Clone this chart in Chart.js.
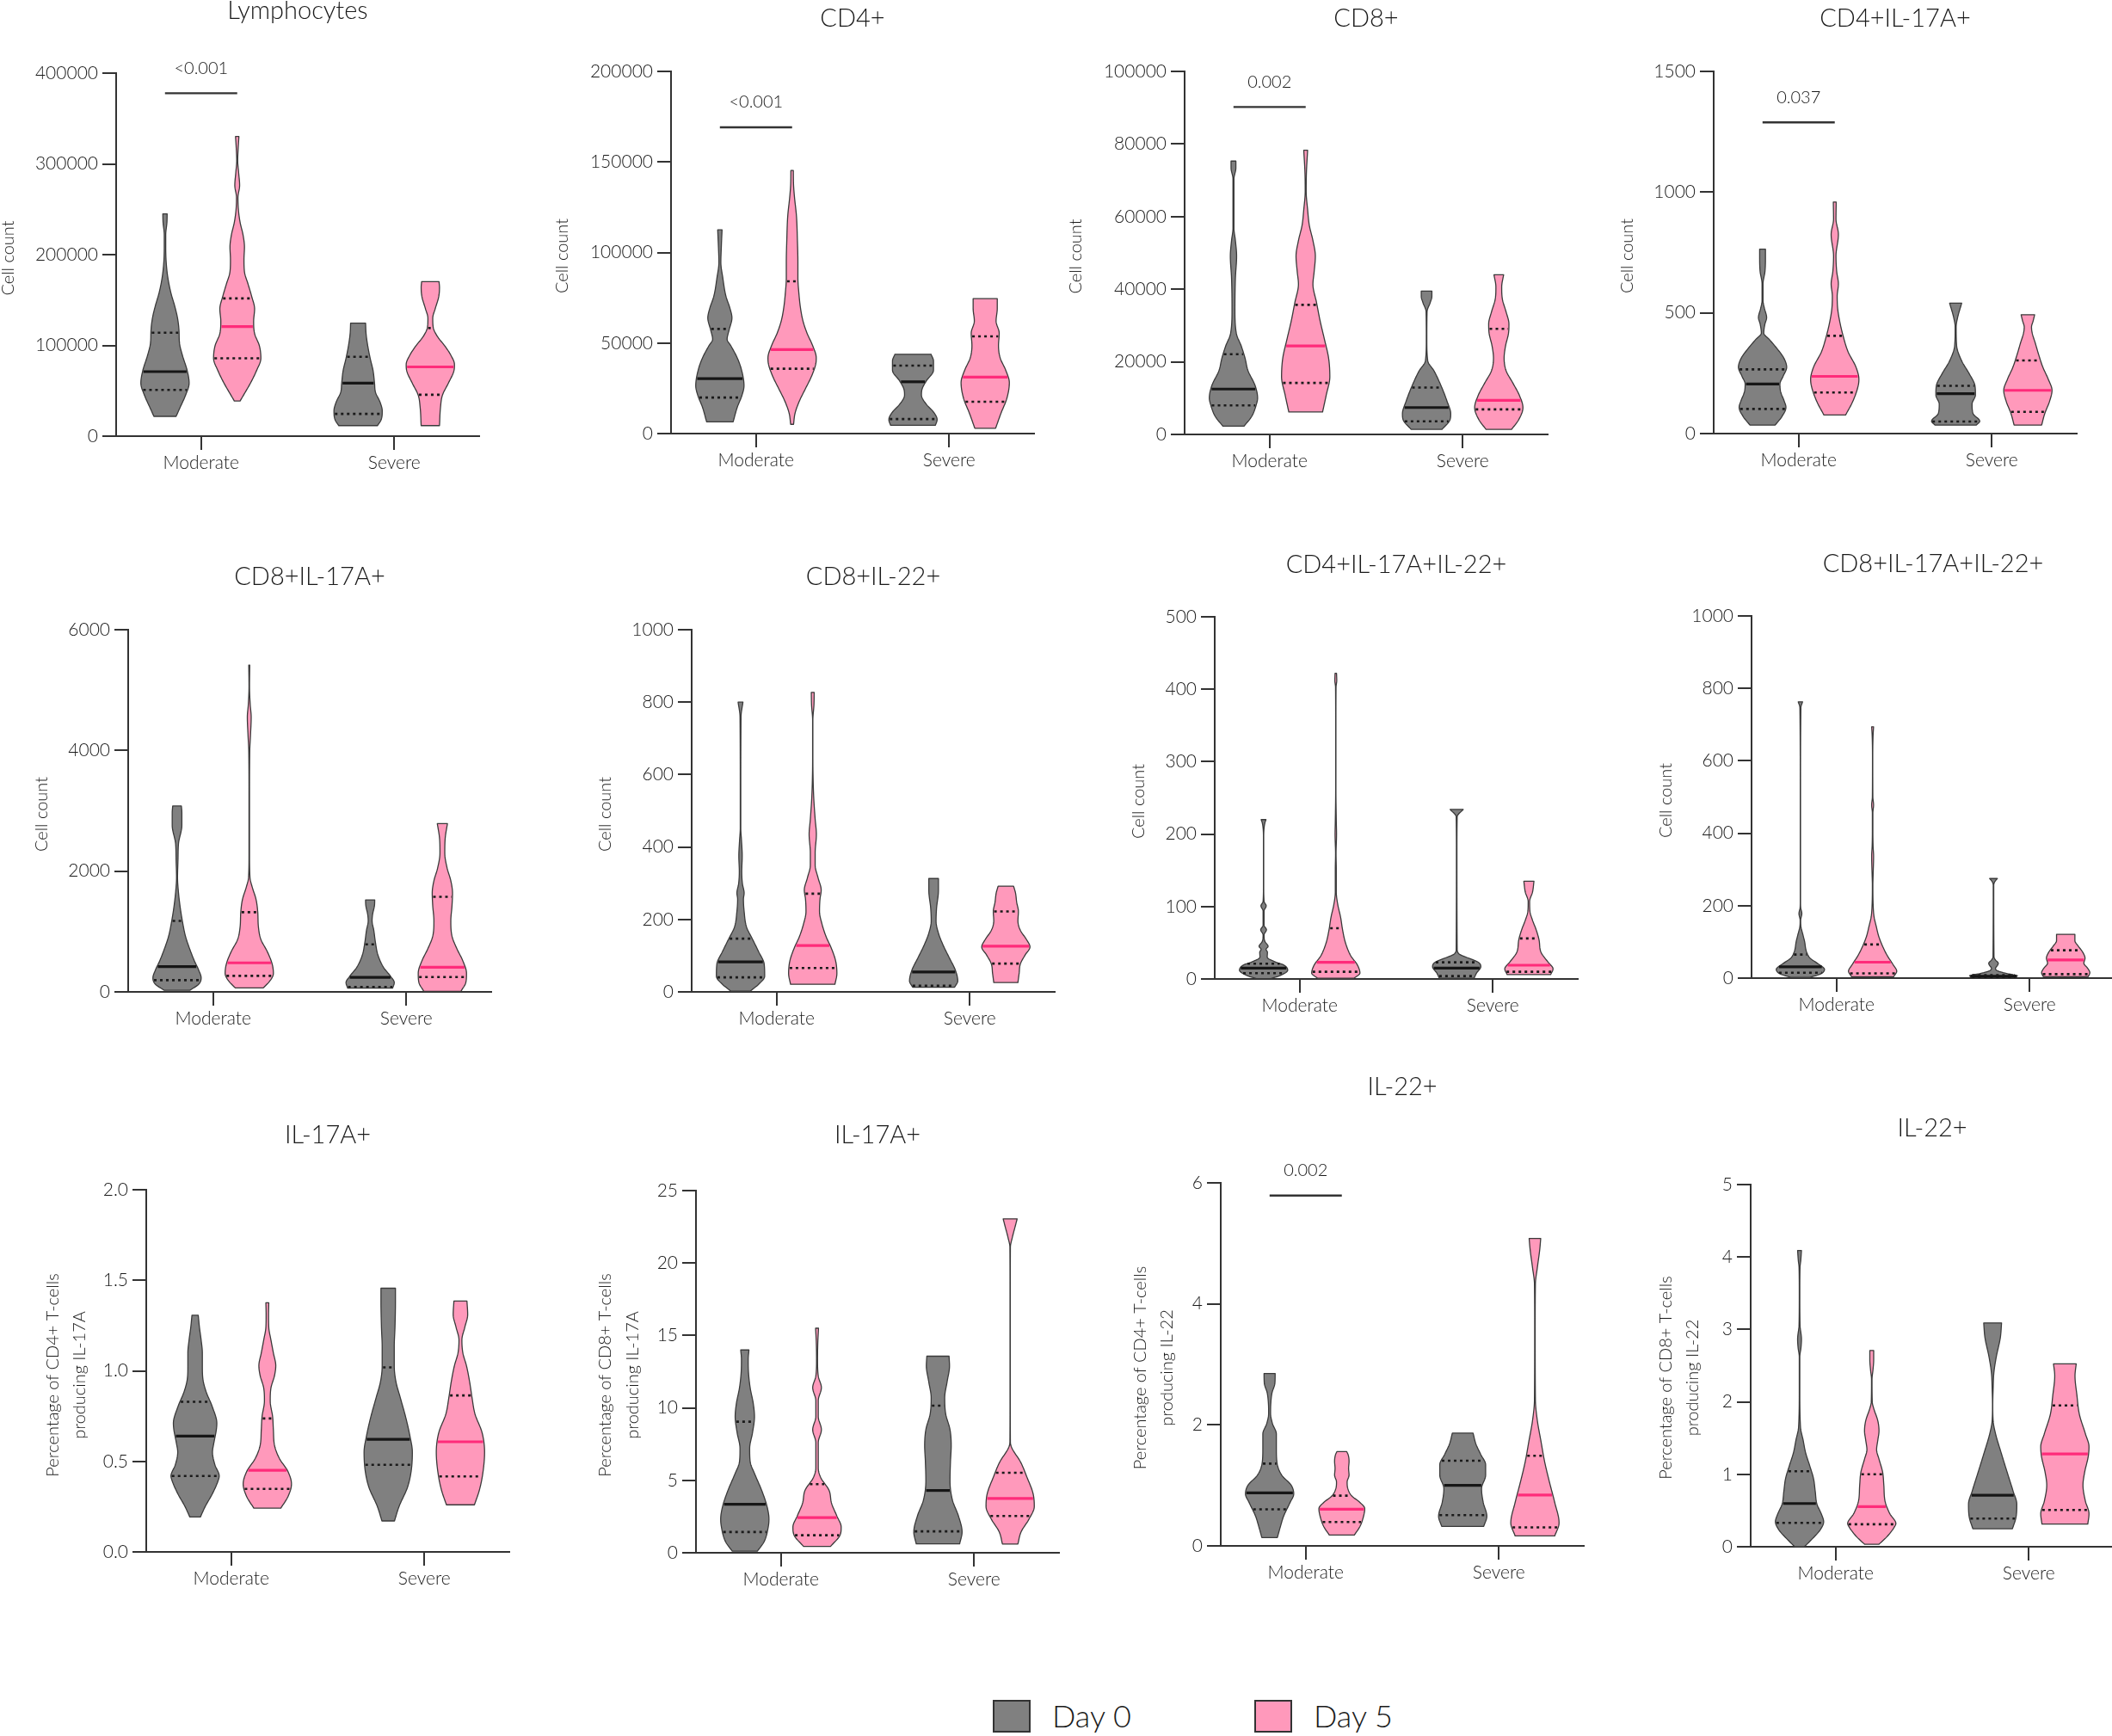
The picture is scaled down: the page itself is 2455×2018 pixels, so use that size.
<!DOCTYPE html>
<html>
<head>
<meta charset="utf-8">
<title>Violin plots - Day 0 vs Day 5</title>
<script src="https://cdn.jsdelivr.net/npm/chart.js@4.4.1/dist/chart.umd.min.js"></script>
<style>
  body { margin: 0; background: #fff; }
  #page { position: relative; width: 2455px; height: 2018px; overflow: hidden; background: #fff; }
  #page canvas { position: absolute; }
  .key { position: absolute; width: 44px; height: 38px; box-sizing: border-box; border: 2px solid #333; }
  .keyText { position: absolute; height: 44px; line-height: 44px; font: 300 36px Lato, sans-serif; color: #1a1a1a; }
</style>
</head>
<body>
<div id="page">
  <div class="key" style="left:1154px; top:1976px; background:#808080;"></div>
  <div class="keyText" style="left:1223px; top:1972px;">Day 0</div>
  <div class="key" style="left:1458px; top:1976px; background:#ff99bb;"></div>
  <div class="keyText" style="left:1527px; top:1972px;">Day 5</div>
</div>
<script>
// Categories and groups
const categories = ['Moderate', 'Severe'];
const groups = ['Day 0', 'Day 5'];

// Violin outlines: [value, relative half width]
// order: Moderate Day 0, Moderate Day 5, Severe Day 0, Severe Day 5
const lymphocytesShapes = [
    [[21800,0.46],[31300,0.62],[45000,0.85],[58500,1.0],[72200,0.92],[89200,0.72],[102800,0.6],[116400,0.58],[130000,0.52],[143600,0.4],[157300,0.25],[174300,0.12],[191300,0.05],[208300,0.03],[221900,0.03],[235500,0.08],[245000,0.09]],
    [[38800,0.12],[48300,0.33],[58500,0.55],[72200,0.8],[85800,0.98],[99400,0.92],[113000,0.72],[126600,0.68],[140200,0.72],[153900,0.6],[167500,0.45],[181100,0.3],[194700,0.28],[208300,0.3],[221900,0.24],[235500,0.12],[249200,0.05],[262800,0.03],[276400,0.1],[290000,0.06],[303700,0.02],[317300,0.04],[330200,0.07]],
    [[11600,0.8],[17700,0.95],[27900,1.0],[38100,0.9],[48300,0.72],[58500,0.68],[72200,0.62],[85800,0.5],[99400,0.4],[113000,0.33],[124600,0.31]],
    [[11600,0.38],[31300,0.42],[45000,0.5],[58500,0.75],[72200,0.98],[79000,1.0],[89200,0.85],[99400,0.6],[109600,0.3],[119800,0.12],[130000,0.1],[140200,0.2],[153900,0.35],[164100,0.38],[170200,0.36]]
];
const lymphocytesStats = [[51000,71100,114000],[85800,120800,151800],[24500,58500,87500],[45600,76300,119100]];

const cd4Shapes = [
    [[6500,0.55],[14500,0.72],[21300,0.92],[26400,1.0],[35000,0.9],[41800,0.72],[48600,0.45],[52000,0.3],[57100,0.38],[63900,0.5],[69100,0.42],[75900,0.25],[86100,0.12],[94600,0.04],[103200,0.06],[112500,0.09]],
    [[5100,0.06],[11100,0.12],[17900,0.3],[24700,0.55],[31500,0.8],[38400,0.98],[41800,1.0],[48600,0.85],[55400,0.62],[62200,0.45],[69100,0.35],[77600,0.28],[86100,0.24],[94600,0.24],[106600,0.22],[120200,0.18],[130400,0.1],[137300,0.06],[145300,0.05]],
    [[4600,0.93],[7700,1.0],[11900,0.85],[16200,0.55],[21300,0.35],[24700,0.38],[29000,0.55],[35000,0.85],[40100,0.85],[43800,0.75]],
    [[2900,0.43],[11100,0.65],[19600,0.9],[28100,1.0],[35000,0.85],[41800,0.62],[48600,0.55],[55400,0.58],[62200,0.45],[69100,0.5],[74500,0.5]]
];
const cd4Stats = [[19900,30300,57800],[35800,46400,84100],[8000,28600,37500],[17600,31200,53700]];

const cd8Shapes = [
    [[2300,0.44],[4900,0.75],[8300,0.95],[10000,1.0],[13400,0.9],[17600,0.6],[21000,0.48],[24400,0.32],[27800,0.12],[34600,0.06],[43100,0.08],[49100,0.13],[53400,0.08],[56800,0.02],[64400,0.02],[70400,0.02],[73400,0.1],[75300,0.1]],
    [[6200,0.7],[10800,0.85],[15900,1.0],[21000,0.95],[26100,0.78],[31200,0.6],[36300,0.45],[41400,0.3],[44800,0.35],[49100,0.4],[53400,0.3],[57600,0.15],[61900,0.08],[67000,0.02],[72100,0.03],[78300,0.08]],
    [[1400,0.64],[4000,0.97],[5700,1.0],[9100,0.85],[13400,0.6],[17600,0.3],[20200,0.05],[26100,0.01],[33800,0.02],[36300,0.15],[38000,0.22],[39500,0.22]],
    [[1400,0.53],[4000,0.82],[7400,1.0],[10800,0.85],[14200,0.58],[17600,0.3],[21000,0.22],[24400,0.28],[27800,0.4],[30400,0.42],[33800,0.3],[37200,0.15],[40600,0.12],[44000,0.2]]
];
const cd8Stats = [[8000,12500,22100],[14200,24400,35700],[3600,7400,12900],[6900,9400,29100]];

const cd4Il17Shapes = [
    [[35,0.52],[70,0.8],[109,0.97],[134,0.9],[173,0.75],[205,0.72],[237,0.85],[275,1.0],[313,0.88],[352,0.6],[390,0.28],[416,0.05],[454,0.1],[480,0.17],[518,0.08],[550,0.02],[620,0.02],[671,0.1],[723,0.12],[764,0.12]],
    [[77,0.45],[134,0.75],[198,0.97],[224,1.0],[275,0.88],[339,0.55],[403,0.35],[467,0.2],[518,0.12],[569,0.1],[620,0.15],[671,0.08],[735,0.05],[825,0.15],[889,0.05],[959,0.06]],
    [[35,0.85],[51,1.0],[83,0.72],[122,0.68],[160,0.82],[198,0.8],[250,0.55],[301,0.25],[365,0.04],[441,0.02],[480,0.08],[540,0.25]],
    [[35,0.57],[83,0.7],[134,0.9],[179,1.0],[224,0.85],[275,0.62],[326,0.45],[377,0.3],[416,0.18],[441,0.15],[467,0.22],[492,0.28]]
];
const cd4Il17Stats = [[102,205,266],[170,237,405],[50,165,198],[90,179,303]];

const cd8Il17Shapes = [
    [[26,0.53],[128,0.9],[230,1.0],[358,0.9],[512,0.72],[716,0.52],[921,0.35],[1176,0.22],[1432,0.12],[1688,0.05],[1893,0.02],[2200,0.04],[2455,0.06],[2762,0.2],[2967,0.2],[3079,0.18]],
    [[66,0.58],[179,0.85],[307,1.0],[460,0.95],[665,0.75],[870,0.48],[1074,0.38],[1330,0.35],[1534,0.28],[1739,0.12],[1893,0.03],[2302,0.01],[2813,0.01],[3222,0.01],[3990,0.02],[4245,0.05],[4552,0.08],[4757,0.04],[5064,0.01],[5412,0.02]],
    [[61,0.93],[153,1.0],[256,0.85],[409,0.55],[614,0.32],[818,0.22],[1023,0.15],[1176,0.08],[1279,0.1],[1432,0.18],[1524,0.19]],
    [[10,0.77],[153,0.97],[307,1.0],[512,0.85],[716,0.6],[921,0.4],[1176,0.35],[1432,0.4],[1637,0.42],[1841,0.35],[2046,0.2],[2302,0.1],[2557,0.12],[2788,0.21]]
];
const cd8Il17Stats = [[194,419,1176],[266,481,1320],[82,240,788],[245,409,1575]];

const cd8Il22Shapes = [
    [[2,0.4],[21,0.75],[43,1.0],[77,0.98],[111,0.75],[145,0.5],[179,0.25],[222,0.15],[256,0.12],[273,0.15],[298,0.08],[332,0.05],[375,0.07],[418,0.04],[452,0.01],[537,0.01],[759,0.02],[800,0.1]],
    [[21,0.92],[51,1.0],[85,0.95],[119,0.78],[153,0.55],[188,0.38],[222,0.28],[256,0.3],[281,0.35],[315,0.22],[350,0.1],[384,0.1],[435,0.15],[477,0.1],[537,0.04],[605,0.01],[665,0.005],[750,0.005],[793,0.05],[827,0.06]],
    [[13,0.87],[30,1.0],[60,0.9],[94,0.65],[128,0.4],[162,0.2],[196,0.1],[230,0.12],[281,0.2],[313,0.2]],
    [[26,0.5],[51,0.55],[77,0.6],[102,0.8],[124,1.0],[145,0.85],[170,0.6],[196,0.5],[222,0.52],[247,0.45],[273,0.4],[292,0.32]]
];
const cd8Il22Stats = [[40,83,147],[66,128,271],[17,55,null],[78,126,222]];

const cd4Il17Il22Shapes = [
    [[0.4,0.3],[5,0.7],[12,1.0],[19,0.85],[24,0.45],[30,0.15],[37,0.16],[41,0.1],[45,0.19],[52,0.05],[61,0.02],[68,0.12],[74,0.02],[94,0.02],[101,0.11],[107,0.02],[129,0.005],[196,0.005],[215,0.05],[220,0.1]],
    [[1,0.75],[8,1.0],[19,0.9],[32,0.62],[50,0.4],[68,0.28],[85,0.2],[103,0.08],[120,0.02],[151,0.02],[173,0.01],[200,0.03],[218,0.02],[262,0.005],[350,0.005],[403,0.01],[412,0.04],[422,0.03]],
    [[1,0.72],[8,0.82],[17,1.0],[23,0.9],[30,0.4],[34,0.12],[41,0.02],[173,0.01],[224,0.02],[234,0.27]],
    [[6,0.9],[14,1.0],[23,0.8],[37,0.5],[54,0.42],[68,0.3],[81,0.15],[94,0.04],[107,0.03],[120,0.15],[135,0.21]]
];
const cd4Il17Il22Stats = [[8,15,21],[10,23,70],[4,15,23],[10,19,56]];

const cd8Il17Il22Shapes = [
    [[2,0.4],[12,0.85],[24,1.0],[41,0.7],[55,0.4],[68,0.28],[81,0.22],[99,0.18],[121,0.1],[143,0.02],[160,0.01],[178,0.06],[196,0.01],[213,0.005],[522,0.005],[747,0.02],[763,0.09]],
    [[4,0.87],[19,1.0],[37,0.85],[63,0.6],[90,0.4],[116,0.25],[143,0.15],[169,0.06],[205,0.02],[257,0.01],[284,0.02],[337,0.04],[363,0.02],[407,0.01],[456,0.01],[478,0.04],[500,0.01],[610,0.005],[672,0.02],[694,0.04]],
    [[1,0.85],[6,1.0],[12,0.6],[19,0.2],[26,0.08],[37,0.18],[41,0.2],[50,0.08],[59,0.02],[257,0.01],[266,0.05],[275,0.16]],
    [[4,0.93],[15,1.0],[28,0.9],[41,0.75],[55,0.8],[72,0.7],[90,0.5],[103,0.38],[121,0.38]]
];
const cd8Il17Il22Stats = [[15,31,65],[13,44,93],[3,5,8],[11,50,77]];

const cd4Il17PctShapes = [
    [[0.193,0.22],[0.251,0.42],[0.322,0.72],[0.392,0.95],[0.419,1.0],[0.481,0.82],[0.551,0.72],[0.604,0.78],[0.675,0.88],[0.710,0.9],[0.799,0.72],[0.887,0.45],[0.958,0.32],[1.028,0.3],[1.099,0.3],[1.170,0.25],[1.240,0.18],[1.307,0.13]],
    [[0.242,0.56],[0.304,0.85],[0.375,1.0],[0.445,0.85],[0.516,0.5],[0.587,0.3],[0.675,0.25],[0.746,0.22],[0.834,0.12],[0.905,0.15],[0.975,0.3],[1.028,0.35],[1.099,0.25],[1.170,0.15],[1.240,0.06],[1.311,0.05],[1.376,0.06]],
    [[0.171,0.26],[0.251,0.45],[0.357,0.8],[0.445,0.95],[0.551,1.0],[0.640,0.9],[0.746,0.72],[0.852,0.5],[0.940,0.32],[1.028,0.25],[1.134,0.25],[1.240,0.28],[1.382,0.3],[1.456,0.3]],
    [[0.260,0.58],[0.339,0.78],[0.428,0.92],[0.551,1.0],[0.657,0.9],[0.763,0.6],[0.852,0.48],[0.940,0.38],[1.028,0.25],[1.099,0.1],[1.170,0.06],[1.240,0.18],[1.311,0.3],[1.385,0.27]]
];
const cd4Il17PctStats = [[0.419,0.640,0.829],[0.348,0.451,0.737],[0.481,0.622,1.019],[0.417,0.608,0.864]];

const cd8Il17PctShapes = [
    [[0.11,0.52],[0.77,0.8],[1.88,0.98],[2.32,1.0],[3.2,0.92],[4.3,0.7],[5.4,0.42],[6.3,0.22],[7.2,0.2],[8.3,0.32],[9.4,0.4],[10.3,0.35],[11.4,0.22],[12.5,0.15],[13.35,0.14],[14.0,0.17]],
    [[0.44,0.56],[1.21,0.95],[1.77,1.0],[2.54,0.82],[3.42,0.6],[4.3,0.5],[5.2,0.15],[5.85,0.05],[6.7,0.05],[7.6,0.05],[8.5,0.18],[9.4,0.05],[10.5,0.05],[11.4,0.18],[12.2,0.05],[13.35,0.02],[14.45,0.03],[15.5,0.06]],
    [[0.62,0.9],[1.43,1.0],[2.54,0.85],[3.64,0.6],[4.97,0.5],[6.3,0.52],[7.4,0.55],[8.5,0.5],[9.6,0.32],[10.7,0.28],[11.8,0.38],[12.9,0.48],[13.57,0.46]],
    [[0.6,0.32],[1.43,0.45],[2.32,0.78],[3.2,1.0],[4.08,0.95],[5.2,0.7],[6.3,0.42],[7.2,0.08],[7.6,0.01],[10.7,0.005],[17.3,0.005],[21.1,0.01],[21.7,0.08],[22.6,0.22],[23.05,0.29]]
];
const cd8Il17PctStats = [[1.43,3.35,9.05],[1.21,2.43,4.74],[1.48,4.3,10.15],[2.54,3.75,5.52]];

const cd4Il22PctShapes = [
    [[0.136,0.32],[0.322,0.45],[0.49,0.58],[0.718,0.85],[0.859,1.0],[1.0,0.9],[1.17,0.5],[1.395,0.3],[1.62,0.28],[1.85,0.28],[2.02,0.12],[2.19,0.04],[2.36,0.05],[2.53,0.1],[2.69,0.22],[2.85,0.23]],
    [[0.18,0.52],[0.32,0.75],[0.49,0.9],[0.616,0.95],[0.718,0.75],[0.83,0.4],[0.944,0.25],[1.057,0.22],[1.17,0.3],[1.28,0.28],[1.395,0.3],[1.51,0.26],[1.56,0.2]],
    [[0.322,0.87],[0.49,1.0],[0.718,0.85],[0.944,0.78],[1.17,0.95],[1.34,0.95],[1.51,0.75],[1.68,0.55],[1.864,0.43]],
    [[0.164,0.82],[0.38,1.0],[0.718,0.82],[1.057,0.6],[1.395,0.4],[1.73,0.25],[2.07,0.1],[2.41,0.02],[3.54,0.01],[4.33,0.02],[4.6,0.1],[4.9,0.2],[5.08,0.24]]
];
const cd4Il22PctStats = [[0.605,0.876,1.36],[0.395,0.605,0.83],[0.508,1.0,1.407],[0.305,0.842,1.49]];

const cd8Il22PctShapes = [
    [[0,0.2],[0.10,0.5],[0.23,0.85],[0.345,1.0],[0.455,0.9],[0.59,0.72],[0.765,0.65],[0.94,0.58],[1.12,0.42],[1.30,0.25],[1.47,0.15],[1.65,0.04],[2.18,0.01],[2.62,0.01],[2.75,0.06],[2.865,0.08],[3.06,0.02],[3.5,0.01],[3.86,0.02],[3.95,0.05],[4.09,0.08]],
    [[0.035,0.3],[0.146,0.65],[0.28,0.95],[0.32,1.0],[0.455,0.75],[0.63,0.55],[0.85,0.5],[1.03,0.45],[1.21,0.3],[1.34,0.2],[1.47,0.25],[1.60,0.3],[1.74,0.25],[1.91,0.08],[2.0,0.02],[2.31,0.01],[2.44,0.05],[2.58,0.08],[2.71,0.08]],
    [[0.248,0.82],[0.41,0.97],[0.59,1.0],[0.765,0.85],[1.03,0.6],[1.30,0.35],[1.56,0.12],[1.74,0.02],[1.96,0.005],[2.18,0.02],[2.40,0.05],[2.62,0.15],[2.89,0.32],[3.09,0.37]],
    [[0.314,0.95],[0.455,1.0],[0.63,0.85],[0.85,0.75],[1.03,0.82],[1.25,0.97],[1.38,1.0],[1.56,0.85],[1.83,0.6],[2.09,0.5],[2.36,0.42],[2.525,0.47]]
];
const cd8Il22PctStats = [[0.33,0.597,1.043],[0.31,0.553,1.0],[0.389,0.71,null],[0.508,1.282,1.95]];

// p-value brackets (Moderate, Day 0 vs Day 5): label and bar height per panel
const pValueLabels = ['<0.001', '<0.001', '0.002', '0.037', null, null, null, null, null, null, '0.002', null];
const pValueBarY = [377800, 169100, 90200, 1289, null, null, null, null, null, null, 5.79, null];

// Panel titles, axis titles and y ranges
const panelTitles = ['Lymphocytes', 'CD4+', 'CD8+', 'CD4+IL-17A+', 'CD8+IL-17A+', 'CD8+IL-22+',
    'CD4+IL-17A+IL-22+', 'CD8+IL-17A+IL-22+', 'IL-17A+', 'IL-17A+', 'IL-22+', 'IL-22+'];
const yTitles = [['Cell count'], ['Cell count'], ['Cell count'], ['Cell count'], ['Cell count'], ['Cell count'],
    ['Cell count'], ['Cell count'],
    ['Percentage of CD4+ T-cells', 'producing IL-17A'], ['Percentage of CD8+ T-cells', 'producing IL-17A'],
    ['Percentage of CD4+ T-cells', 'producing IL-22'], ['Percentage of CD8+ T-cells', 'producing IL-22']];
const yMaxes = [400000, 200000, 100000, 1500, 6000, 1000, 500, 1000, 2.0, 25, 6, 5];
const ySteps = [100000, 50000, 20000, 500, 2000, 200, 100, 200, 0.5, 5, 2, 1];
const yDecimals = [0, 0, 0, 0, 0, 0, 0, 0, 1, 0, 0, 0];

const shapes = [lymphocytesShapes, cd4Shapes, cd8Shapes, cd4Il17Shapes, cd8Il17Shapes, cd8Il22Shapes,
    cd4Il17Il22Shapes, cd8Il17Il22Shapes, cd4Il17PctShapes, cd8Il17PctShapes, cd4Il22PctShapes, cd8Il22PctShapes];
const stats = [lymphocytesStats, cd4Stats, cd8Stats, cd4Il17Stats, cd8Il17Stats, cd8Il22Stats,
    cd4Il17Il22Stats, cd8Il17Il22Stats, cd4Il17PctStats, cd8Il17PctStats, cd4Il22PctStats, cd8Il22PctStats];

// Layout of each plot area on the page (pixels) and text placement
const layout = [
    { left: 135,  top: 85,   bottom: 507,  titleGap: 63,  yTitleOff: [125], yShift: 4 },
    { left: 780,  top: 83,   bottom: 504,  titleGap: 52,  yTitleOff: [126], yShift: 4 },
    { left: 1377, top: 83,   bottom: 505,  titleGap: 52,  yTitleOff: [126], yShift: 4 },
    { left: 1992, top: 83,   bottom: 504,  titleGap: 52,  yTitleOff: [100], yShift: 4 },
    { left: 149,  top: 732,  bottom: 1153, titleGap: 52,  yTitleOff: [100], yShift: 4 },
    { left: 804,  top: 732,  bottom: 1153, titleGap: 52,  yTitleOff: [100], yShift: 4 },
    { left: 1412, top: 717,  bottom: 1138, titleGap: 51,  yTitleOff: [88],  yShift: 4 },
    { left: 2036, top: 716,  bottom: 1137, titleGap: 51,  yTitleOff: [99],  yShift: 4 },
    { left: 170,  top: 1383, bottom: 1804, titleGap: 54,  yTitleOff: [108, 77], yShift: 5 },
    { left: 809,  top: 1384, bottom: 1805, titleGap: 55,  yTitleOff: [105, 73], yShift: 4 },
    { left: 1419, top: 1375, bottom: 1797, titleGap: 102, yTitleOff: [93, 62],  yShift: 4 },
    { left: 2035, top: 1377, bottom: 1798, titleGap: 56,  yTitleOff: [98, 67],  yShift: 14 }
];

const PLOT_W = 422, Y_AXIS_W = 160, PAD_TOP = 140, X_AXIS_H = 60, PAD_RIGHT = 14;
const GROUP_OFFSET = 0.187, HALF_WIDTH = 0.125;
const FILLS = ['#808080', '#ff99bb'];
const MEDIAN_COLORS = ['#161616', '#ff2b7a'];
const OUTLINE = '#3a3a3a', AXIS = '#333333', TEXT = '#1a1a1a';
const FONT = 'Lato';

// Monotone cubic interpolation of the outline width along the value axis
function widthFn(profile) {
    const xs = profile.map(p => p[0]), ys = profile.map(p => p[1]);
    const n = xs.length;
    const d = [], m = new Array(n);
    for (let i = 0; i < n - 1; i++) d.push((ys[i + 1] - ys[i]) / (xs[i + 1] - xs[i]));
    m[0] = d[0];
    m[n - 1] = d[n - 2];
    for (let i = 1; i < n - 1; i++) m[i] = (d[i - 1] * d[i] <= 0) ? 0 : (d[i - 1] + d[i]) / 2;
    for (let i = 0; i < n - 1; i++) {
        if (d[i] === 0) { m[i] = 0; m[i + 1] = 0; continue; }
        const a = m[i] / d[i], b = m[i + 1] / d[i], s = a * a + b * b;
        if (s > 9) { const t = 3 / Math.sqrt(s); m[i] = t * a * d[i]; m[i + 1] = t * b * d[i]; }
    }
    return v => {
        if (v <= xs[0]) return ys[0];
        if (v >= xs[n - 1]) return ys[n - 1];
        let i = 0;
        while (v > xs[i + 1]) i++;
        const h = xs[i + 1] - xs[i], t = (v - xs[i]) / h, t2 = t * t, t3 = t2 * t;
        return (2 * t3 - 3 * t2 + 1) * ys[i] + (t3 - 2 * t2 + t) * h * m[i]
            + (-2 * t3 + 3 * t2) * ys[i + 1] + (t3 - t2) * h * m[i + 1];
    };
}

// Draws each dataset as a violin with median and quartile lines
const violinPlugin = {
    id: 'violin',
    afterDatasetsDraw(chart) {
        const { ctx, scales: { x, y } } = chart;
        chart.data.datasets.forEach(ds => {
            const cx = x.getPixelForValue(ds.center);
            const hw = x.getPixelForValue(ds.center + HALF_WIDTH) - cx;
            const w = widthFn(ds.profile);
            const v0 = ds.profile[0][0], v1 = ds.profile[ds.profile.length - 1][0];
            const steps = Math.max(2, Math.ceil((y.getPixelForValue(v0) - y.getPixelForValue(v1)) / 1.2));
            ctx.save();
            ctx.beginPath();
            for (let k = 0; k <= steps; k++) {
                const v = v0 + (v1 - v0) * k / steps;
                const px = cx + Math.max(w(v), 0.004) * hw, py = y.getPixelForValue(v);
                if (k === 0) ctx.moveTo(px, py); else ctx.lineTo(px, py);
            }
            for (let k = steps; k >= 0; k--) {
                const v = v0 + (v1 - v0) * k / steps;
                ctx.lineTo(cx - Math.max(w(v), 0.004) * hw, y.getPixelForValue(v));
            }
            ctx.closePath();
            ctx.fillStyle = ds.fillColor;
            ctx.fill();
            ctx.lineWidth = 1.3;
            ctx.strokeStyle = OUTLINE;
            ctx.lineJoin = 'round';
            ctx.stroke();

            ds.stats.forEach((v, k) => {
                if (v === null) return;
                const half = w(v) * hw - 1;
                const py = y.getPixelForValue(v);
                ctx.beginPath();
                ctx.moveTo(cx - half, py);
                ctx.lineTo(cx + half, py);
                if (k === 1) {
                    ctx.setLineDash([]);
                    ctx.lineWidth = 3.2;
                    ctx.strokeStyle = ds.medianColor;
                } else {
                    ctx.setLineDash([3, 4]);
                    ctx.lineWidth = 2.6;
                    ctx.strokeStyle = '#1a1a1a';
                }
                ctx.stroke();
            });
            ctx.restore();
        });
    }
};

// Panel title, rotated y title and p-value bracket
const panelTextPlugin = {
    id: 'panelText',
    afterDraw(chart) {
        const cfg = chart.options.plugins.panelText;
        const { ctx, chartArea: a, scales: { x, y } } = chart;
        ctx.save();
        ctx.fillStyle = TEXT;
        ctx.textAlign = 'center';
        ctx.textBaseline = 'alphabetic';
        ctx.font = `300 29px ${FONT}`;
        ctx.fillText(cfg.title, (a.left + a.right) / 2, a.top - cfg.titleGap);

        ctx.font = `300 20px ${FONT}`;
        ctx.textBaseline = 'middle';
        cfg.yTitle.forEach((line, i) => {
            ctx.save();
            ctx.translate(a.left - cfg.yTitleOff[i], (a.top + a.bottom) / 2 + cfg.yShift);
            ctx.rotate(-Math.PI / 2);
            ctx.fillText(line, 0, 0);
            ctx.restore();
        });

        if (cfg.pLabel) {
            const x0 = x.getPixelForValue(0 - GROUP_OFFSET), x1 = x.getPixelForValue(0 + GROUP_OFFSET);
            const py = y.getPixelForValue(cfg.pBar);
            ctx.beginPath();
            ctx.moveTo(x0, py);
            ctx.lineTo(x1, py);
            ctx.lineWidth = 2.4;
            ctx.strokeStyle = AXIS;
            ctx.stroke();
            ctx.font = `300 20px ${FONT}`;
            ctx.fillText(cfg.pLabel, (x0 + x1) / 2, py - 29);
        }
        ctx.restore();
    }
};

const page = document.getElementById('page');

layout.forEach((pos, p) => {
    const canvas = document.createElement('canvas');
    const width = Y_AXIS_W + PLOT_W + PAD_RIGHT;
    const height = PAD_TOP + (pos.bottom - pos.top) + X_AXIS_H;
    canvas.width = width;
    canvas.height = height;
    canvas.style.width = width + 'px';
    canvas.style.height = height + 'px';
    canvas.style.left = (pos.left - Y_AXIS_W) + 'px';
    canvas.style.top = (pos.top - PAD_TOP) + 'px';
    page.appendChild(canvas);

    const datasets = shapes[p].map((profile, i) => {
        const cat = Math.floor(i / 2), g = i % 2;
        const center = cat + (g === 0 ? -GROUP_OFFSET : GROUP_OFFSET);
        return {
            label: categories[cat] + ' ' + groups[g],
            data: profile.map(([v]) => ({ x: center, y: v })),
            profile: profile,
            stats: stats[p][i],
            center: center,
            fillColor: FILLS[g],
            medianColor: MEDIAN_COLORS[g],
            pointRadius: 0,
            showLine: false,
        };
    });

    const dec = yDecimals[p];
    new Chart(canvas, {
        type: 'scatter',
        data: { datasets: datasets },
        options: {
            responsive: false,
            animation: false,
            events: [],
            layout: { padding: { top: PAD_TOP, right: PAD_RIGHT, left: 0, bottom: 0 } },
            plugins: {
                legend: { display: false },
                tooltip: { enabled: false },
                panelText: {
                    title: panelTitles[p],
                    yTitle: yTitles[p],
                    titleGap: pos.titleGap,
                    yTitleOff: pos.yTitleOff,
                    yShift: pos.yShift,
                    pLabel: pValueLabels[p],
                    pBar: pValueBarY[p],
                },
            },
            scales: {
                x: {
                    type: 'linear',
                    min: -0.44,
                    max: 1.44,
                    afterBuildTicks: scale => { scale.ticks = categories.map((c, i) => ({ value: i })); },
                    afterFit: scale => { scale.height = X_AXIS_H; },
                    ticks: {
                        callback: value => categories[value],
                        color: TEXT,
                        font: { family: FONT, size: 21, weight: 300 },
                        padding: 3,
                        maxRotation: 0,
                        autoSkip: false,
                    },
                    grid: { display: true, drawOnChartArea: false, drawTicks: true, tickLength: 16, color: AXIS, lineWidth: 2 },
                    border: { display: true, color: AXIS, width: 2 },
                },
                y: {
                    min: 0,
                    max: yMaxes[p],
                    afterFit: scale => { scale.width = Y_AXIS_W; },
                    ticks: {
                        stepSize: ySteps[p],
                        callback: value => value.toFixed(dec),
                        color: TEXT,
                        font: { family: FONT, size: 21, weight: 300 },
                        padding: 5,
                    },
                    grid: { display: true, drawOnChartArea: false, drawTicks: true, tickLength: 16, color: AXIS, lineWidth: 2 },
                    border: { display: true, color: AXIS, width: 2 },
                },
            },
        },
        plugins: [violinPlugin, panelTextPlugin],
    });
});
</script>
</body>
</html>
